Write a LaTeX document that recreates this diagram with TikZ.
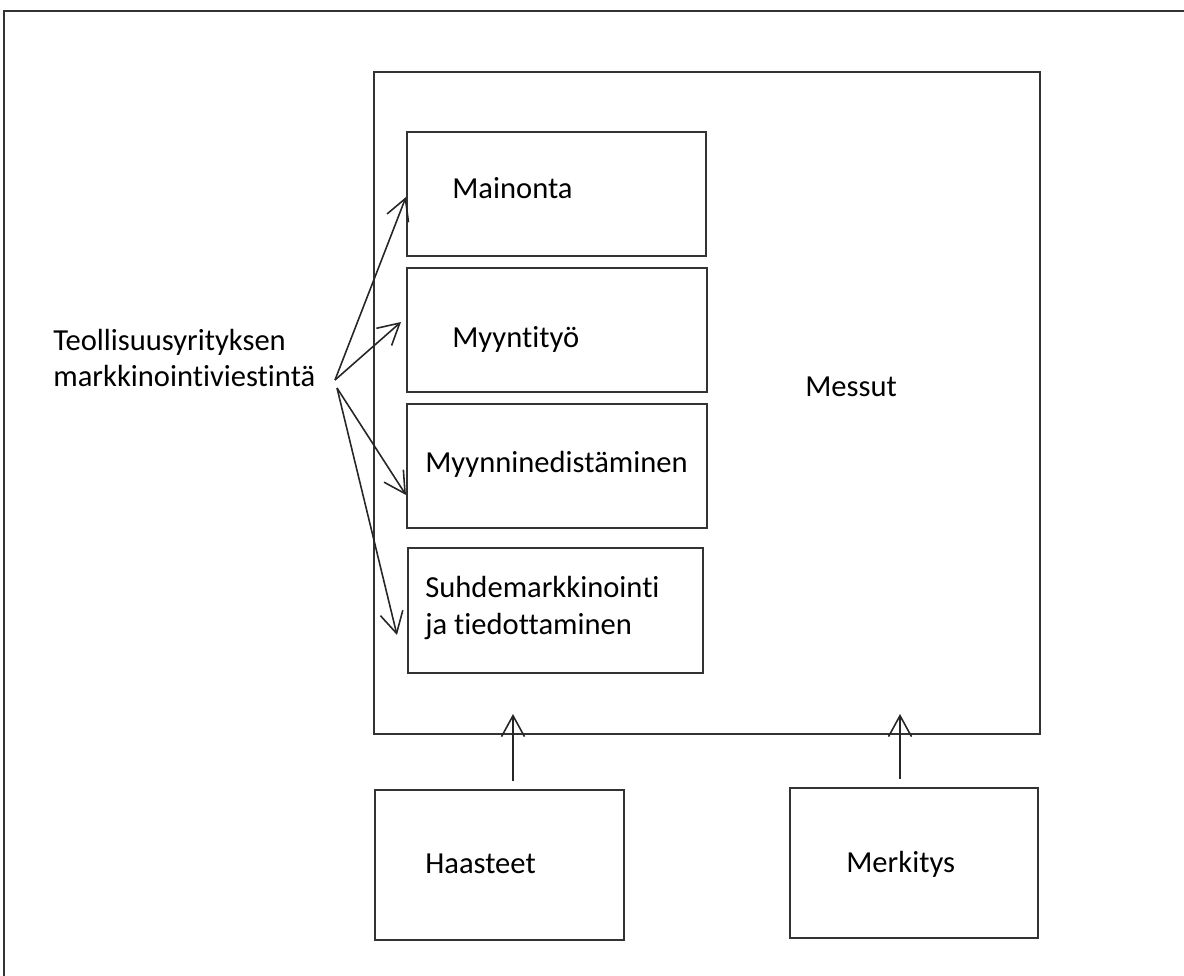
\documentclass[tikz,border=0pt]{standalone}
\usepackage{fontspec}
\setmainfont[Ligatures=NoCommon]{Carlito}
\usetikzlibrary{arrows.meta}
\begin{document}
\begin{tikzpicture}[x=0.02cm,y=-0.02cm,
  font=\fontsize{17.4}{21}\selectfont,
  box/.style={draw=black!80,line width=1.2pt,inner sep=0pt},
  txt/.style={inner sep=0pt,anchor=base west},
  arr/.style={draw=black!85,line width=0.9pt,-{Straight Barb[length=0.42cm,width=0.46cm]}}]
\useasboundingbox (0,0) rectangle (1184,976);
% the frame round the page, cut at the right and at the bottom
\draw[line width=1.2pt,black!80] (1184,11) -- (4,11) -- (4,976);
% the big box and its boxes
\node[box,minimum width=13.32cm,minimum height=13.24cm] (messut) at (707,403) {};
\node[txt] (messutlbl) at (805,397) {Messut};
\node[box,minimum width=5.98cm,minimum height=2.48cm] (mainonta) at (556.5,194) {};
\node[txt] (mainontalbl) at (452,199) {Mainonta};
\node[box,minimum width=6cm,minimum height=2.48cm] (myyntityo) at (557,330) {};
\node[txt] (myyntityolbl) at (452,348) {Myyntityö};
\node[box,minimum width=6cm,minimum height=2.48cm] (myynninedist) at (557,466) {};
\node[txt] (myynninedistlbl) at (425,473) {Myynninedistäminen};
\node[box,minimum width=5.9cm,minimum height=2.5cm] (suhde) at (555.5,610.5) {};
\node[inner sep=0pt,anchor=west,align=left] (suhdelbl) at (425,608) {Suhdemarkkinointi\\ja tiedottaminen};
% the boxes below
\node[box,minimum width=4.98cm,minimum height=3cm] (haasteet) at (499.5,865) {};
\node[txt] (haasteetlbl) at (425,873) {Haasteet};
\node[box,minimum width=4.96cm,minimum height=3cm] (merkitys) at (914,863) {};
\node[txt] (merkityslbl) at (846,872) {Merkitys};
% the text on the left and where its arrows start
\node[inner sep=0pt,anchor=west,align=left] (teol) at (53,358) {Teollisuusyrityksen\\markkinointiviestintä};
\coordinate (fanA) at (335,380);
\coordinate (fanB) at (337,388);
\foreach \s/\b/\dx/\dy in {fanA/mainonta/0/-0.06,fanA/myyntityo/-0.1/0.16,fanB/myynninedist/0/-0.58,fanB/suhde/-0.2/-0.49}
  \draw[arr] (\s) -- ([xshift=\dx cm,yshift=\dy cm]\b.west);
% arrows up into the big box
\draw[arr] ([xshift=0.27cm,yshift=0.16cm]haasteet.north) -- ([xshift=0.27cm,yshift=0.42cm]haasteet.north |- messut.south);
\draw[arr] ([xshift=-0.28cm,yshift=0.16cm]merkitys.north) -- ([xshift=-0.28cm,yshift=0.42cm]merkitys.north |- messut.south);
\end{tikzpicture}
\end{document}
